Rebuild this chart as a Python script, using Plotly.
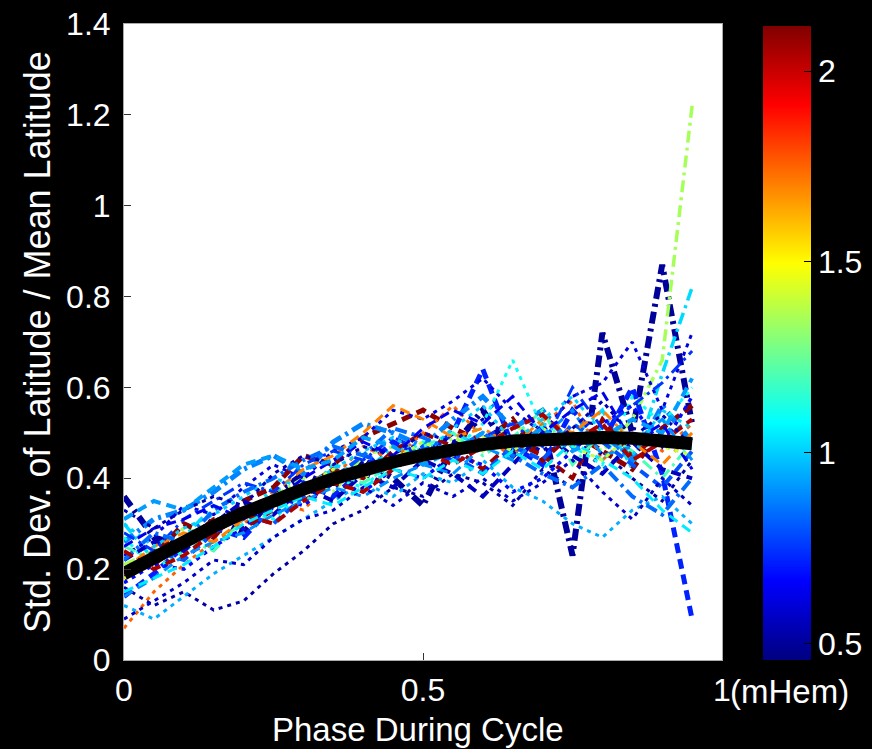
import plotly.graph_objects as go

# ---------------- data ----------------
phase = [0.00, 0.05, 0.10, 0.15, 0.20, 0.25, 0.30, 0.35, 0.40, 0.45,
         0.50, 0.55, 0.60, 0.65, 0.70, 0.75, 0.80, 0.85, 0.90, 0.95]

fit_curve = [0.190, 0.227, 0.262, 0.294, 0.324, 0.352, 0.376, 0.399, 0.419, 0.436,
             0.451, 0.464, 0.474, 0.482, 0.487, 0.490, 0.490, 0.488, 0.483, 0.476]

# amplitude of each cycle (mHem), sets the line colour
mhem = [0.50, 1.35, 1.02, 0.72, 2.10, 2.08, 1.75, 0.88, 0.52, 0.62,
        1.10, 0.95, 0.80, 0.56, 1.20, 0.68, 0.90, 1.70, 0.75, 0.58,
        1.00, 0.84, 2.05, 0.64, 1.05, 0.54, 1.40, 0.92]

series = [
    [0.36, 0.27, 0.25, 0.31, 0.28, 0.36, 0.41, 0.38, 0.44, 0.40, 0.34, 0.47, 0.55, 0.45, 0.52, 0.23, 0.72, 0.50, 0.87, 0.52],
    [0.21, 0.24, 0.29, 0.27, 0.33, 0.36, 0.40, 0.37, 0.45, 0.47, 0.43, 0.49, 0.46, 0.52, 0.48, 0.50, 0.46, 0.53, 0.66, 1.22],
    [0.30, 0.22, 0.27, 0.34, 0.31, 0.38, 0.36, 0.43, 0.41, 0.47, 0.45, 0.50, 0.47, 0.44, 0.52, 0.49, 0.55, 0.42, 0.63, 0.82],
    [0.14, 0.19, 0.25, 0.29, 0.27, 0.34, 0.39, 0.36, 0.42, 0.48, 0.45, 0.50, 0.64, 0.47, 0.43, 0.55, 0.48, 0.60, 0.41, 0.09],
    [0.18, 0.23, 0.30, 0.27, 0.35, 0.38, 0.45, 0.43, 0.49, 0.52, 0.55, 0.51, 0.48, 0.53, 0.44, 0.50, 0.46, 0.42, 0.51, 0.56],
    [0.20, 0.21, 0.26, 0.31, 0.29, 0.33, 0.38, 0.42, 0.40, 0.46, 0.50, 0.47, 0.42, 0.48, 0.45, 0.40, 0.53, 0.45, 0.50, 0.47],
    [0.07, 0.15, 0.21, 0.26, 0.30, 0.35, 0.33, 0.40, 0.47, 0.44, 0.50, 0.56, 0.49, 0.45, 0.52, 0.57, 0.44, 0.50, 0.46, 0.52],
    [0.26, 0.31, 0.33, 0.37, 0.42, 0.45, 0.41, 0.48, 0.52, 0.50, 0.47, 0.53, 0.58, 0.51, 0.55, 0.47, 0.50, 0.44, 0.56, 0.48],
    [0.16, 0.12, 0.15, 0.11, 0.13, 0.19, 0.24, 0.30, 0.33, 0.38, 0.36, 0.41, 0.39, 0.34, 0.42, 0.38, 0.46, 0.40, 0.35, 0.44],
    [0.23, 0.27, 0.34, 0.32, 0.38, 0.43, 0.40, 0.46, 0.49, 0.55, 0.53, 0.57, 0.62, 0.55, 0.50, 0.58, 0.61, 0.70, 0.55, 0.72],
    [0.27, 0.20, 0.24, 0.28, 0.33, 0.31, 0.37, 0.40, 0.38, 0.44, 0.48, 0.46, 0.52, 0.66, 0.51, 0.47, 0.43, 0.58, 0.52, 0.60],
    [0.12, 0.09, 0.14, 0.19, 0.23, 0.27, 0.31, 0.35, 0.39, 0.36, 0.41, 0.39, 0.44, 0.38, 0.35, 0.30, 0.27, 0.33, 0.36, 0.30],
    [0.19, 0.24, 0.22, 0.28, 0.32, 0.30, 0.36, 0.40, 0.45, 0.43, 0.47, 0.45, 0.41, 0.47, 0.44, 0.52, 0.48, 0.43, 0.38, 0.46],
    [0.22, 0.26, 0.24, 0.30, 0.35, 0.32, 0.38, 0.35, 0.41, 0.38, 0.44, 0.41, 0.36, 0.43, 0.50, 0.45, 0.41, 0.48, 0.42, 0.40],
    [0.25, 0.22, 0.27, 0.24, 0.31, 0.34, 0.37, 0.41, 0.39, 0.43, 0.47, 0.50, 0.45, 0.49, 0.55, 0.43, 0.50, 0.46, 0.40, 0.48],
    [0.17, 0.21, 0.20, 0.25, 0.29, 0.36, 0.34, 0.39, 0.37, 0.42, 0.40, 0.45, 0.43, 0.37, 0.40, 0.46, 0.52, 0.56, 0.47, 0.58],
    [0.14, 0.18, 0.23, 0.26, 0.28, 0.32, 0.35, 0.38, 0.36, 0.40, 0.43, 0.41, 0.47, 0.44, 0.49, 0.55, 0.45, 0.47, 0.53, 0.44],
    [0.20, 0.25, 0.28, 0.26, 0.31, 0.37, 0.42, 0.45, 0.50, 0.56, 0.53, 0.49, 0.51, 0.47, 0.53, 0.50, 0.55, 0.48, 0.43, 0.50],
    [0.28, 0.24, 0.31, 0.35, 0.39, 0.37, 0.43, 0.46, 0.44, 0.49, 0.46, 0.44, 0.49, 0.52, 0.47, 0.60, 0.51, 0.56, 0.61, 0.68],
    [0.09, 0.13, 0.17, 0.22, 0.21, 0.27, 0.31, 0.33, 0.38, 0.34, 0.39, 0.36, 0.40, 0.35, 0.39, 0.44, 0.37, 0.31, 0.40, 0.34],
    [0.30, 0.25, 0.29, 0.32, 0.36, 0.40, 0.38, 0.42, 0.46, 0.49, 0.45, 0.51, 0.56, 0.48, 0.53, 0.58, 0.50, 0.45, 0.55, 0.51],
    [0.22, 0.28, 0.26, 0.33, 0.37, 0.40, 0.44, 0.47, 0.45, 0.51, 0.49, 0.46, 0.50, 0.45, 0.41, 0.38, 0.43, 0.36, 0.32, 0.40],
    [0.24, 0.20, 0.23, 0.28, 0.32, 0.30, 0.35, 0.39, 0.37, 0.42, 0.46, 0.43, 0.47, 0.51, 0.54, 0.48, 0.52, 0.44, 0.48, 0.53],
    [0.25, 0.29, 0.31, 0.34, 0.31, 0.35, 0.40, 0.44, 0.48, 0.45, 0.51, 0.55, 0.52, 0.58, 0.50, 0.55, 0.59, 0.48, 0.52, 0.42],
    [0.15, 0.18, 0.21, 0.25, 0.30, 0.33, 0.36, 0.34, 0.38, 0.42, 0.40, 0.44, 0.41, 0.46, 0.42, 0.48, 0.44, 0.40, 0.33, 0.28],
    [0.33, 0.29, 0.33, 0.36, 0.34, 0.41, 0.45, 0.43, 0.47, 0.45, 0.50, 0.48, 0.53, 0.49, 0.46, 0.51, 0.57, 0.49, 0.54, 0.47],
    [0.18, 0.22, 0.25, 0.29, 0.32, 0.35, 0.38, 0.42, 0.40, 0.44, 0.48, 0.45, 0.49, 0.46, 0.51, 0.47, 0.44, 0.50, 0.47, 0.45],
    [0.31, 0.35, 0.33, 0.38, 0.43, 0.45, 0.42, 0.44, 0.49, 0.47, 0.43, 0.46, 0.50, 0.47, 0.51, 0.46, 0.49, 0.53, 0.50, 0.62],
]

cbar_ticks = [0.5, 1, 1.5, 2]
cbar_ticktext = ["0.5", "1", "1.5", "2"]
x_ticks = [0, 0.5, 1]
x_ticktext = ["0", "0.5", "1"]

# ---------------- styles ----------------
line_dash = ["dashdot", "dashdot", "dashdot", "dash", "dash", "dash", "dot", "dashdot",
             "dot", "dot", "dot", "dot", "dash", "dash", "dashdot", "dot",
             "dash", "dash", "dashdot", "dot", "dot", "dashdot", "dash", "dash",
             "dash", "dot", "dot", "dash"]
line_width = [6, 3.5, 3.5, 5, 5, 4, 3, 5, 3, 3, 3, 3, 4, 4, 3, 3.5,
              3, 3, 3, 3, 3, 4, 4, 3, 3, 3, 3, 4]
dash_px = {"dot": "4px,5px", "dash": "10px,6px", "dashdot": "12px,5px,3px,5px"}

CMIN, CMAX = 0.458, 2.118
jet = [[0.0, "rgb(0,0,128)"], [0.125, "rgb(0,0,255)"], [0.375, "rgb(0,255,255)"],
       [0.625, "rgb(255,255,0)"], [0.875, "rgb(255,0,0)"], [1.0, "rgb(128,0,0)"]]


def parse(c):
    return [int(v) for v in c[4:-1].split(",")]


def jet_color(v):
    t = (v - CMIN) / (CMAX - CMIN)
    t = max(0.0, min(1.0, t))
    for (t0, c0), (t1, c1) in zip(jet[:-1], jet[1:]):
        if t0 <= t <= t1:
            f = (t - t0) / (t1 - t0)
            a, b = parse(c0), parse(c1)
            return "rgb(%d,%d,%d)" % tuple(round(a[i] + f * (b[i] - a[i])) for i in range(3))
    return jet[-1][1]


fig = go.Figure()
for ys, m, d, w in zip(series, mhem, line_dash, line_width):
    fig.add_trace(go.Scatter(x=phase, y=ys, mode="lines",
                             line=dict(color=jet_color(m), width=w, dash=dash_px[d]),
                             showlegend=False, hoverinfo="skip"))

fig.add_trace(go.Scatter(x=phase, y=fit_curve, mode="lines",
                         line=dict(color="black", width=13), showlegend=False))

font = "Liberation Sans"

# colour bar
fig.add_trace(go.Scatter(x=[None], y=[None], mode="markers", showlegend=False,
                         marker=dict(color=[CMIN], cmin=CMIN, cmax=CMAX, colorscale=jet,
                                     showscale=True,
                                     colorbar=dict(x=1.0686, xanchor="left", xpad=0, ypad=0,
                                                   y=0.4985, yanchor="middle",
                                                   thickness=48, thicknessmode="pixels",
                                                   len=634, lenmode="pixels",
                                                   tickvals=cbar_ticks,
                                                   ticktext=cbar_ticktext,
                                                   ticks="inside", ticklen=7, tickcolor="black",
                                                   outlinewidth=0,
                                                   tickfont=dict(color="white", size=32,
                                                                 family=font)))))

fig.update_layout(
    width=872, height=749,
    margin=dict(l=124, r=150, t=24, b=89, autoexpand=False),
    paper_bgcolor="black", plot_bgcolor="white",
    font=dict(family=font, color="white", size=32),
    xaxis=dict(range=[0, 1], tickvals=x_ticks, ticktext=x_ticktext,
               ticks="inside", ticklen=7, tickcolor="#333",
               showline=True, linecolor="#aaaaaa", linewidth=1, mirror=True,
               showgrid=False, zeroline=False, ticklabelstandoff=2,
               tickfont=dict(size=32, color="white", family=font)),
    yaxis=dict(range=[0, 1.4], dtick=0.2, tick0=0,
               ticks="inside", ticklen=7, tickcolor="#333",
               showline=True, linecolor="#aaaaaa", linewidth=1, mirror=True,
               showgrid=False, zeroline=False, ticklabelstandoff=6,
               tickfont=dict(size=32, color="white", family=font)),
    annotations=[
        dict(text="Std. Dev. of Latitude / Mean Latitude", xref="paper", yref="paper",
             x=-0.1455, y=0.5, textangle=-90, showarrow=False,
             xanchor="center", yanchor="middle",
             font=dict(size=36, color="white", family=font)),
        dict(text="Phase During Cycle", xref="paper", yref="paper",
             x=0.4916, y=-0.110, showarrow=False, xanchor="center", yanchor="middle",
             font=dict(size=33, color="white", family=font)),
        dict(text="(mHem)", xref="paper", yref="paper",
             x=1.010, y=-0.049, showarrow=False, xanchor="left", yanchor="middle",
             font=dict(size=33, color="white", family=font)),
    ],
)

fig.write_html("out.html")
